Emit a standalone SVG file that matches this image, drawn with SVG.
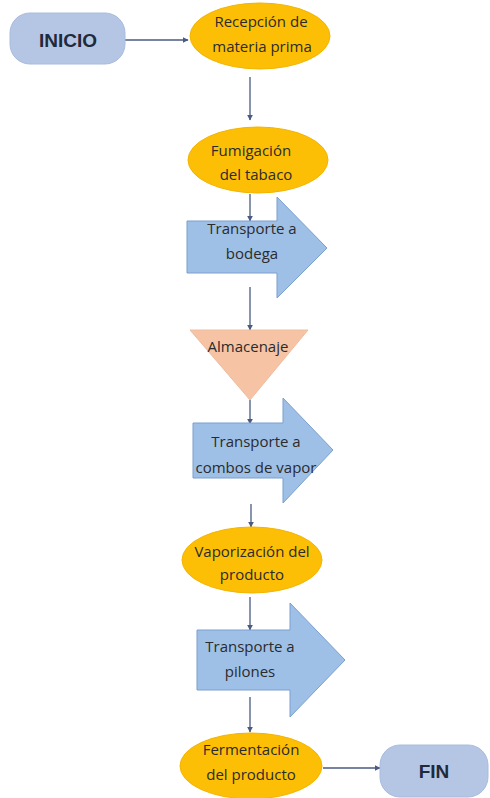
<svg xmlns="http://www.w3.org/2000/svg" width="490" height="798" viewBox="0 0 490 798">
<style>
.term{fill:#b4c6e4;stroke:#a9bcdd;stroke-width:1}
.oval{fill:#fdbf06;stroke:#f3b400;stroke-width:1}
.blue{fill:#9fc0e6;stroke:#7b9fcf;stroke-width:1}
.tri{fill:#f6c4a5;stroke:#eebc9d;stroke-width:1}
.t{font-family:"Open Sans","Liberation Sans",sans-serif;font-size:15px;fill:#2b2b2b;text-anchor:middle}
.tb{font-family:"Liberation Sans",sans-serif;font-size:19px;font-weight:bold;fill:#1f2a3a;text-anchor:middle}
.c{stroke:#4a5a80;stroke-width:1.3;fill:none;marker-end:url(#ah)}
</style>
<defs>
<marker id="ah" viewBox="0 0 10 10" refX="9" refY="5" markerWidth="6" markerHeight="6" orient="auto" markerUnits="userSpaceOnUse">
<path d="M0,0 L10,5 L0,10 z" fill="#4a5a80"/>
</marker>
</defs>
<rect width="490" height="798" fill="#ffffff"/>
<g id="connectors">
<line class="c" x1="125" y1="40" x2="188" y2="40"/>
<line class="c" x1="250" y1="77" x2="250" y2="120"/>
<line class="c" x1="250" y1="194" x2="250" y2="221"/>
<line class="c" x1="250" y1="287" x2="250" y2="330"/>
<line class="c" x1="250" y1="400" x2="250" y2="424"/>
<line class="c" x1="251" y1="504" x2="251" y2="527"/>
<line class="c" x1="250" y1="597" x2="250" y2="630"/>
<line class="c" x1="250" y1="697" x2="250" y2="732"/>
<line class="c" x1="323" y1="768" x2="380" y2="768"/>
</g>
<g id="inicio">
<rect class="term" x="10" y="13" width="115" height="51" rx="20"/>
<text class="tb" x="68" y="47">INICIO</text>
</g>
<g id="recepcion">
<ellipse class="oval" cx="260" cy="36" rx="70" ry="33"/>
<text class="t" x="261" y="27">Recepción de</text>
<text class="t" x="262" y="52">materia prima</text>
</g>
<g id="fumigacion">
<ellipse class="oval" cx="258" cy="160" rx="70" ry="33"/>
<text class="t" x="251" y="156">Fumigación</text>
<text class="t" x="256" y="180">del tabaco</text>
</g>
<g id="transporte-bodega">
<path class="blue" d="M187,221 H277 V197 L327,248 L277,298 V273 H187 Z"/>
<text class="t" x="252" y="234">Transporte a</text>
<text class="t" x="252" y="259">bodega</text>
</g>
<g id="almacenaje">
<path class="tri" d="M190,330 H308 L250,400 Z"/>
<text class="t" x="248" y="352">Almacenaje</text>
</g>
<g id="transporte-combos">
<path class="blue" d="M193,423 H283 V398 L333,450 L283,503 V478 H193 Z"/>
<text class="t" x="256" y="447">Transporte a</text>
<text class="t" x="256" y="473">combos de vapor</text>
</g>
<g id="vaporizacion">
<ellipse class="oval" cx="252" cy="560" rx="70" ry="33"/>
<text class="t" x="252" y="557">Vaporización del</text>
<text class="t" x="252" y="580">producto</text>
</g>
<g id="transporte-pilones">
<path class="blue" d="M197,630 H290 V603 L345,660 L290,717 V690 H197 Z"/>
<text class="t" x="250" y="652">Transporte a</text>
<text class="t" x="250" y="677">pilones</text>
</g>
<g id="fermentacion">
<ellipse class="oval" cx="251" cy="766" rx="71" ry="33"/>
<text class="t" x="251" y="755">Fermentación</text>
<text class="t" x="251" y="780">del producto</text>
</g>
<g id="fin">
<rect class="term" x="380" y="745" width="108" height="52" rx="20"/>
<text class="tb" x="434" y="778">FIN</text>
</g>
</svg>
